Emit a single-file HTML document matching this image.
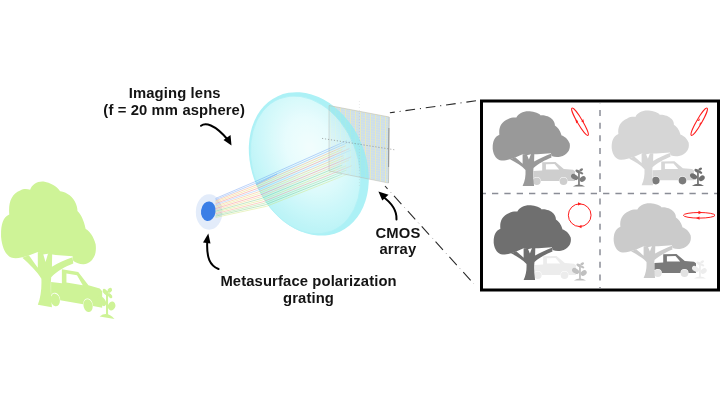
<!DOCTYPE html>
<html><head><meta charset="utf-8">
<style>
html,body{margin:0;padding:0;background:#fff;width:720px;height:405px;overflow:hidden}
svg{display:block;will-change:transform}
text{font-family:"Liberation Sans",sans-serif;font-weight:bold;fill:#141414}
</style></head><body>
<svg width="720" height="405" viewBox="0 0 720 405">
<defs>
  <path id="canopy" d="M23.2,46.4 C19,48 13,49.8 9.6,49.5 C5,49 1.5,45 0.7,38 C0.5,31 2,26 7.4,23.7 C6.5,17 9,11 16.3,8.1 C19,6.5 22,6.3 24.4,6.6 C26,3 31,0.3 36.2,0.3 C40,0.3 46,1.5 48.8,4.4 C52,4 58,5.5 60.7,8.8 C62.5,11 63,13 62.9,14.5 C65.5,16 68,19 69.6,24.4 C72.5,25 76,28 77.7,32.5 C78.3,36 77.5,39 76.2,40.5 C74.5,43 72,45 68,45.8 C65,46.3 62,46 59.5,45 L58.9,42.2 L45.2,43.2 L39,43.2 L34.8,44.3 L30.6,43.3 Z"/>
  <path id="trunk" d="M30.6,75 L42.1,75 C41.2,69 40.8,62 41.5,57 C46,53 53,49 59.5,46.5 L58.9,42.8 C53,45 47,48 42.1,50.6 L42.3,43 L39,43 L36.9,48.5 L34.8,43.5 L30.6,43.3 L30.6,52.7 C28,50.5 25.5,48 23.2,46.2 L18,48.3 C24,51.5 30,55 33.5,59 C33.8,65 33,70 30.6,75 Z"/>
  <path id="carbody" fill-rule="evenodd" d="M41.4,70 L41.4,60 L50.2,59.6 L50.2,51.2 L63.5,51 L71.8,58 L81,58.7 L83,60.2 L83,70 L75.5,70 A4,4 0 0 0 67.5,70 L48.8,70 A4,4 0 0 0 40.8,70 Z M53.9,53.2 L62.5,53.1 L67.2,58.6 L53.9,58.6 Z"/>
  <g id="wheels"><circle cx="44.8" cy="70.3" r="3.8"/><circle cx="71.5" cy="70.3" r="3.8"/></g>
  <g id="plant">
    <path d="M80.9,75.6 Q87,71.2 93,75.6 Z"/>
    <rect x="86.1" y="59.5" width="1.7" height="15"/>
    <ellipse cx="82.6" cy="66" rx="3.9" ry="2.5" transform="rotate(32 82.6 66)"/>
    <ellipse cx="90.7" cy="68" rx="3.3" ry="2.4" transform="rotate(-38 90.7 68)"/>
    <ellipse cx="85.6" cy="60.3" rx="2.4" ry="1.5" transform="rotate(30 85.6 60.3)"/>
    <ellipse cx="89.2" cy="58.8" rx="2" ry="1.3" transform="rotate(-30 89.2 58.8)"/>
    <ellipse cx="89.4" cy="62" rx="2" ry="1.2" transform="rotate(25 89.4 62)"/>
  </g>
  <pattern id="grid" width="5" height="2.4" patternUnits="userSpaceOnUse" patternTransform="skewY(10.4)">
    <rect width="5" height="2.4" fill="#c8ddf3"/>
    <rect x="0" y="0" width="5" height="0.5" fill="#dde6dc"/>
    <rect x="0" y="0" width="0.8" height="2.4" fill="#ecebb8"/>
    <rect x="2.5" y="0" width="0.6" height="2.4" fill="#dfe5ca"/>
  </pattern>
  <radialGradient id="lensface" cx="0.6" cy="0.4" r="0.75">
    <stop offset="0" stop-color="#eefdfd"/>
    <stop offset="0.3" stop-color="#dffbfc"/>
    <stop offset="0.65" stop-color="#b7f4f7"/>
    <stop offset="1" stop-color="#93ecf2"/>
  </radialGradient>
  <linearGradient id="rayfade" gradientUnits="userSpaceOnUse" x1="300" y1="0" x2="352" y2="0">
    <stop offset="0" stop-color="#fff"/>
    <stop offset="0.55" stop-color="#fff"/>
    <stop offset="1" stop-color="#fff" stop-opacity="0.25"/>
  </linearGradient>
  <mask id="raymask" maskUnits="userSpaceOnUse" x="200" y="120" width="180" height="110">
    <rect x="200" y="120" width="180" height="110" fill="url(#rayfade)"/>
  </mask>
</defs>

<!-- green tree -->
<g fill="#cef397" transform="matrix(1.2281,0.2143,0.0012,1.6616,0.17,173.53)">
  <use href="#canopy"/><use href="#trunk"/><use href="#carbody"/><use href="#wheels"/><use href="#plant"/>
</g>

<!-- plate -->
<path d="M329,105.5 L389.2,117 L388.5,183 L329,171 Z" fill="url(#grid)"/>
<!-- lens -->
<g opacity="0.75">
<ellipse cx="308.8" cy="163.9" rx="56.5" ry="74.5" fill="#91edf3" transform="rotate(-24.6 308.8 163.9)"/>
<ellipse cx="305.5" cy="164.9" rx="52.2" ry="71.1" fill="url(#lensface)" stroke="#96ecf2" stroke-width="0.7" transform="rotate(-21.3 305.5 164.9)"/>
</g>
<!-- metasurface -->
<ellipse cx="209.1" cy="212" rx="13.3" ry="17.7" fill="#e3ecfa"/>
<ellipse cx="208.3" cy="211.2" rx="7.3" ry="9.8" fill="#3a7ee6" transform="rotate(8 208.3 211.2)"/>
<!-- rays -->
<g stroke-width="0.5" fill="none" opacity="0.75" stroke-linejoin="round" mask="url(#raymask)">
<path d="M215.5,198.5 L254.5,181.9 L347.0,140.6" stroke="#4f86ee"/>
<path d="M215.5,199.8 L254.9,183.6 L352.0,140.6" stroke="#5b90f0"/>
<path d="M215.5,201.0 L255.3,185.4 L345.7,145.7" stroke="#f09050"/>
<path d="M215.5,202.3 L255.8,187.1 L342.4,149.4" stroke="#e8c840"/>
<path d="M215.5,203.6 L256.4,188.8 L349.5,148.5" stroke="#ee5f5f"/>
<path d="M215.5,204.8 L257.2,190.4 L351.0,150.1" stroke="#78aaf2"/>
<path d="M215.5,206.1 L258.0,192.0 L343.5,155.6" stroke="#f0a050"/>
<path d="M215.5,207.4 L258.8,193.6 L343.9,157.7" stroke="#e0d850"/>
<path d="M215.5,208.6 L259.6,195.3 L351.3,156.8" stroke="#ee6060"/>
<path d="M215.5,209.9 L260.3,196.9 L349.0,160.1" stroke="#f4b860"/>
<path d="M215.5,211.2 L261.0,198.6 L342.2,165.1" stroke="#60c060"/>
<path d="M215.5,212.4 L261.7,200.3 L346.3,165.7" stroke="#d0d850"/>
<path d="M215.5,213.7 L262.7,201.9 L352.0,165.6" stroke="#f08060"/>
<path d="M215.5,215.0 L264.0,203.3 L346.5,170.1" stroke="#88d070"/>
<path d="M215.5,216.2 L265.2,204.8 L342.1,174.1" stroke="#60c060"/>
<path d="M215.5,217.5 L266.5,206.3 L348.8,173.7" stroke="#c8e060"/>
<path d="M256,184.5 L277,174" stroke="#6a9cf0" stroke-width="0.8"/>
</g>

<path d="M329,105.5 L389.2,117" stroke="#c0c0b0" stroke-width="0.6" fill="none"/>
<path d="M389.2,117 L388.5,183" stroke="#a8a8a0" stroke-width="0.6" fill="none"/>
<path d="M329,105.5 L329,171 L388.5,183" stroke="#b8b8b0" stroke-width="0.5" fill="none"/>
<path d="M322,138.4 L396,150" stroke="#666" stroke-width="0.6" stroke-dasharray="1.2 1.8" fill="none" opacity="0.85"/>
<path d="M388.9,128 L388.6,167" stroke="#7a7a7a" stroke-width="0.7" fill="none"/>
<path d="M359.4,101 L359.4,186" stroke="#aaa" stroke-width="0.4" stroke-dasharray="1 2" fill="none" opacity="0.6"/>


<!-- dashed lines -->
<path d="M389.9,112.8 L477.5,100.6" stroke="#2a2a2a" stroke-width="1.1" stroke-dasharray="9.7 4.9 1 4.9" stroke-dashoffset="4.8"/>
<path d="M385,186 L474,284" stroke="#2a2a2a" stroke-width="1.1" stroke-dasharray="11 9.6" stroke-dashoffset="-13.4"/>
<path d="M385,186 L474,284" stroke="#555" stroke-width="0.7" stroke-dasharray="0.8 19.8" stroke-dashoffset="-29"/>

<!-- box -->
<rect x="481.5" y="101" width="237" height="189" fill="#fff" stroke="#000" stroke-width="3"/>
<path d="M600,103 L600,288" stroke="#8a8d96" stroke-width="1.5" stroke-dasharray="6 6.65" stroke-dashoffset="5.65"/>
<path d="M483,193.5 L717,193.5" stroke="#8a8d96" stroke-width="1.5" stroke-dasharray="6.3 6.04" stroke-dashoffset="3.34"/>

<!-- Q1 -->
<g transform="translate(492,111)">
  <g fill="#cecece"><use href="#carbody"/><use href="#wheels"/></g>
  <g fill="#999999"><use href="#canopy"/><use href="#trunk"/></g>
  <use href="#plant" fill="#7d7d7d"/>
</g>
<!-- Q2 -->
<g transform="translate(611,110.3)">
  <g fill="#d6d6d6"><use href="#carbody"/></g>
  <use href="#wheels" fill="#7b7b7b"/>
  <g fill="#d6d6d6"><use href="#canopy"/><use href="#trunk"/></g>
  <use href="#plant" fill="#6f6f6f"/>
</g>
<!-- Q3 -->
<g transform="translate(493,205)">
  <g fill="#ececec"><use href="#carbody"/><use href="#wheels"/></g>
  <g fill="#6f6f6f"><use href="#canopy"/><use href="#trunk"/></g>
  <use href="#plant" fill="#c0c0c0"/>
</g>
<!-- Q4 -->
<g transform="translate(613,203)">
  <use href="#carbody" fill="#7a7a7a"/>
  <use href="#wheels" fill="#e2e2e2"/>
  <g fill="#cbcbcb"><use href="#canopy"/><use href="#trunk"/></g>
  <use href="#plant" fill="#ededed"/>
</g>

<!-- polarization ellipses -->
<g fill="none" stroke="#ff1c1c" stroke-width="1">
  <ellipse cx="580" cy="121.7" rx="15.8" ry="2.6" transform="rotate(59.5 580 121.7)"/>
  <ellipse cx="699.2" cy="121.7" rx="15.7" ry="2.6" transform="rotate(-60 699.2 121.7)"/>
  <circle cx="579.7" cy="215.2" r="11.35"/>
  <ellipse cx="699.2" cy="215.3" rx="15.8" ry="2.8"/>
</g>
<g fill="#ff1c1c">
  <path d="M576.2,123.5 L575.5,119.8 L578.2,121 Z"/>
  <path d="M583.2,119 L584,122.5 L581.3,121.5 Z"/>
  <path d="M697,121 L700,118.2 L699.3,120.8 Z"/>
  <path d="M702.2,122.3 L699.3,125.3 L700,122.7 Z"/>
  <path d="M581.5,203.9 L578,202.2 L578,205.6 Z"/>
  <path d="M578,226.6 L581.5,224.9 L581.5,228.3 Z"/>
  <path d="M702,212.5 L698.5,210.8 L698.5,214.2 Z"/>
  <path d="M696,218.1 L699.5,216.4 L699.5,219.8 Z"/>
</g>

<!-- arrows -->
<g fill="none" stroke="#000" stroke-width="2" stroke-linecap="round">
  <path d="M201,125.8 C205,122.8 214,123.2 228.5,140.5"/>
  <path d="M218.5,269 C210,265.5 206.3,258 207.3,241"/>
  <path d="M396.5,219.5 C397,210 392,203 382,196"/>
</g>
<g fill="#000">
  <path d="M231.5,145.5 L223.5,140 L230.5,135 Z"/>
  <path d="M208.3,233.5 L203,242.5 L210.5,243.5 Z"/>
  <path d="M378.4,191.4 L382.3,200.4 L388.5,194.8 Z"/>
</g>

<!-- text -->
<g font-size="14.8" text-anchor="middle" letter-spacing="0.12">
  <text x="174.7" y="97.8">Imaging lens</text>
  <text x="174.2" y="115.1">(f = 20 mm asphere)</text>
  <text x="398" y="237.8">CMOS</text>
  <text x="397.9" y="253.8">array</text>
  <text x="308.6" y="286.3">Metasurface polarization</text>
  <text x="308.5" y="302.7">grating</text>
</g>
</svg>
</body></html>
